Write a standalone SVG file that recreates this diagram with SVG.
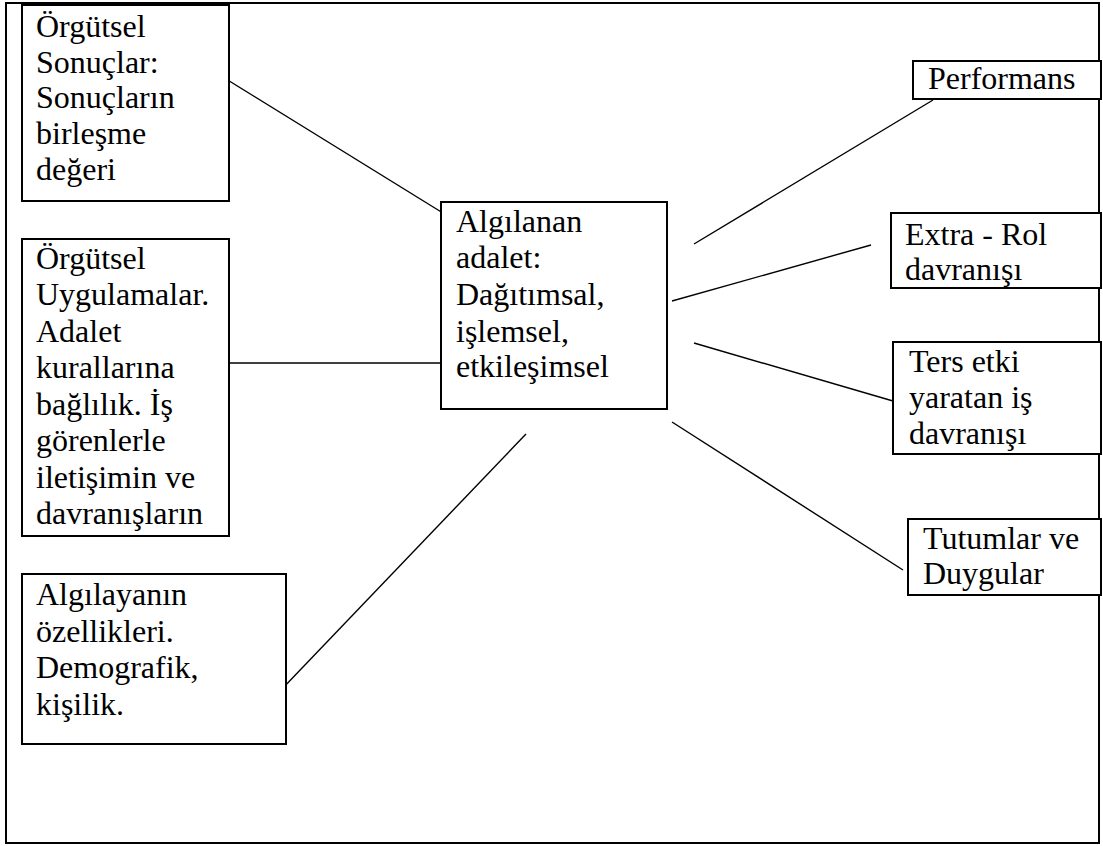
<svg xmlns="http://www.w3.org/2000/svg" width="1103" height="846" viewBox="0 0 1103 846" font-family="'Liberation Serif', 'Times New Roman', 'DejaVu Serif', serif">
<style>
.box{fill:#fff;stroke:#000;stroke-width:2}
.frame{fill:none;stroke:#000;stroke-width:2}
text{font-family:'Liberation Serif','Times New Roman','DejaVu Serif',serif;font-size:32px;fill:#000}
.conn line{stroke:#000;stroke-width:1.4}
</style>
<rect width="1103" height="846" fill="#fff"/>
<rect id="frame" class="frame" x="6" y="3" width="1093" height="840"/>
<g id="connectors" class="conn">
<line x1="226" y1="79" x2="451" y2="218"/>
<line x1="226" y1="363" x2="450" y2="363"/>
<line x1="281" y1="690" x2="526" y2="434"/>
<line x1="694" y1="244" x2="933" y2="100"/>
<line x1="672" y1="301" x2="871" y2="245"/>
<line x1="694" y1="343" x2="893" y2="401"/>
<line x1="672" y1="422" x2="903" y2="570"/>
</g>
<g id="n-orgutsel-sonuclar">
<rect class="box" x="22" y="5" width="207" height="196"/>
<text><tspan x="36" y="37">Örgütsel</tspan><tspan x="36" y="73">Sonuçlar:</tspan><tspan x="36" y="108">Sonuçların</tspan><tspan x="36" y="144">birleşme</tspan><tspan x="36" y="180">değeri</tspan></text>
</g>
<g id="n-orgutsel-uygulamalar">
<rect class="box" x="22" y="239" width="207" height="297"/>
<text><tspan x="36" y="269">Örgütsel</tspan><tspan x="36" y="305">Uygulamalar.</tspan><tspan x="36" y="342">Adalet</tspan><tspan x="36" y="378">kurallarına</tspan><tspan x="36" y="415">bağlılık. İş</tspan><tspan x="36" y="451">görenlerle</tspan><tspan x="36" y="488">iletişimin ve</tspan><tspan x="36" y="524">davranışların</tspan></text>
</g>
<g id="n-algilayanin">
<rect class="box" x="22" y="574" width="264" height="170"/>
<text><tspan x="36" y="605">Algılayanın</tspan><tspan x="36" y="642">özellikleri.</tspan><tspan x="36" y="678">Demografik,</tspan><tspan x="36" y="715">kişilik.</tspan></text>
</g>
<g id="n-algilanan-adalet">
<rect class="box" x="441" y="202" width="226" height="207"/>
<text><tspan x="456" y="232">Algılanan</tspan><tspan x="456" y="268">adalet:</tspan><tspan x="456" y="305">Dağıtımsal,</tspan><tspan x="456" y="342">işlemsel,</tspan><tspan x="456" y="377">etkileşimsel</tspan></text>
</g>
<g id="n-performans">
<rect class="box" x="913" y="61" width="188" height="38"/>
<text x="928" y="89">Performans</text>
</g>
<g id="n-extra-rol">
<rect class="box" x="891" y="213" width="210" height="75"/>
<text><tspan x="905" y="245">Extra - Rol</tspan><tspan x="905" y="280">davranışı</tspan></text>
</g>
<g id="n-ters-etki">
<rect class="box" x="893" y="342" width="208" height="112"/>
<text><tspan x="909" y="372">Ters etki</tspan><tspan x="909" y="408">yaratan iş</tspan><tspan x="909" y="444">davranışı</tspan></text>
</g>
<g id="n-tutumlar">
<rect class="box" x="908" y="519" width="193" height="76"/>
<text><tspan x="923" y="549">Tutumlar ve</tspan><tspan x="923" y="584">Duygular</tspan></text>
</g>
</svg>
